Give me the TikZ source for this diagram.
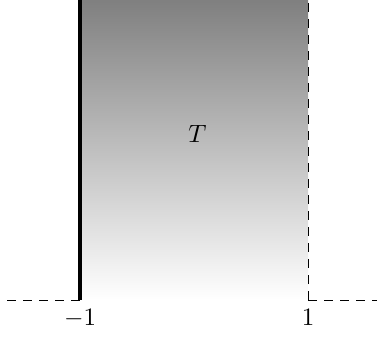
\documentclass[tikz,border=0pt]{standalone}
\begin{document}
\begin{tikzpicture}[x=1.6cm,y=1.6cm,
  dashln/.style={dash pattern=on 3.5pt off 2.9pt, line width=0.4pt},
  wall/.style={line width=1.5pt}]
\useasboundingbox (-1.702,-0.325) rectangle (1.605,2.632);
\shade[top color=black!50, bottom color=white] (-1,0) rectangle (1,2.632);
\coordinate (bl) at (-1,0);
\coordinate (br) at (1,0);
\coordinate (tl) at (-1,2.632);
\coordinate (tr) at (1,2.632);
\coordinate (le) at (-1.64,0);
\coordinate (re) at (1.605,0);
\draw[dashln] (le) -- (bl);
\draw[dashln] (br) -- (re);
\draw[dashln] (br) -- (tr);
\draw[wall] (bl) -- (tl);
\node[below] (m1) at (bl) {$-1$};
\node[below] (p1) at (br) {$1$};
\node (T) at (0.03,1.46) {$T$};
\end{tikzpicture}
\end{document}
